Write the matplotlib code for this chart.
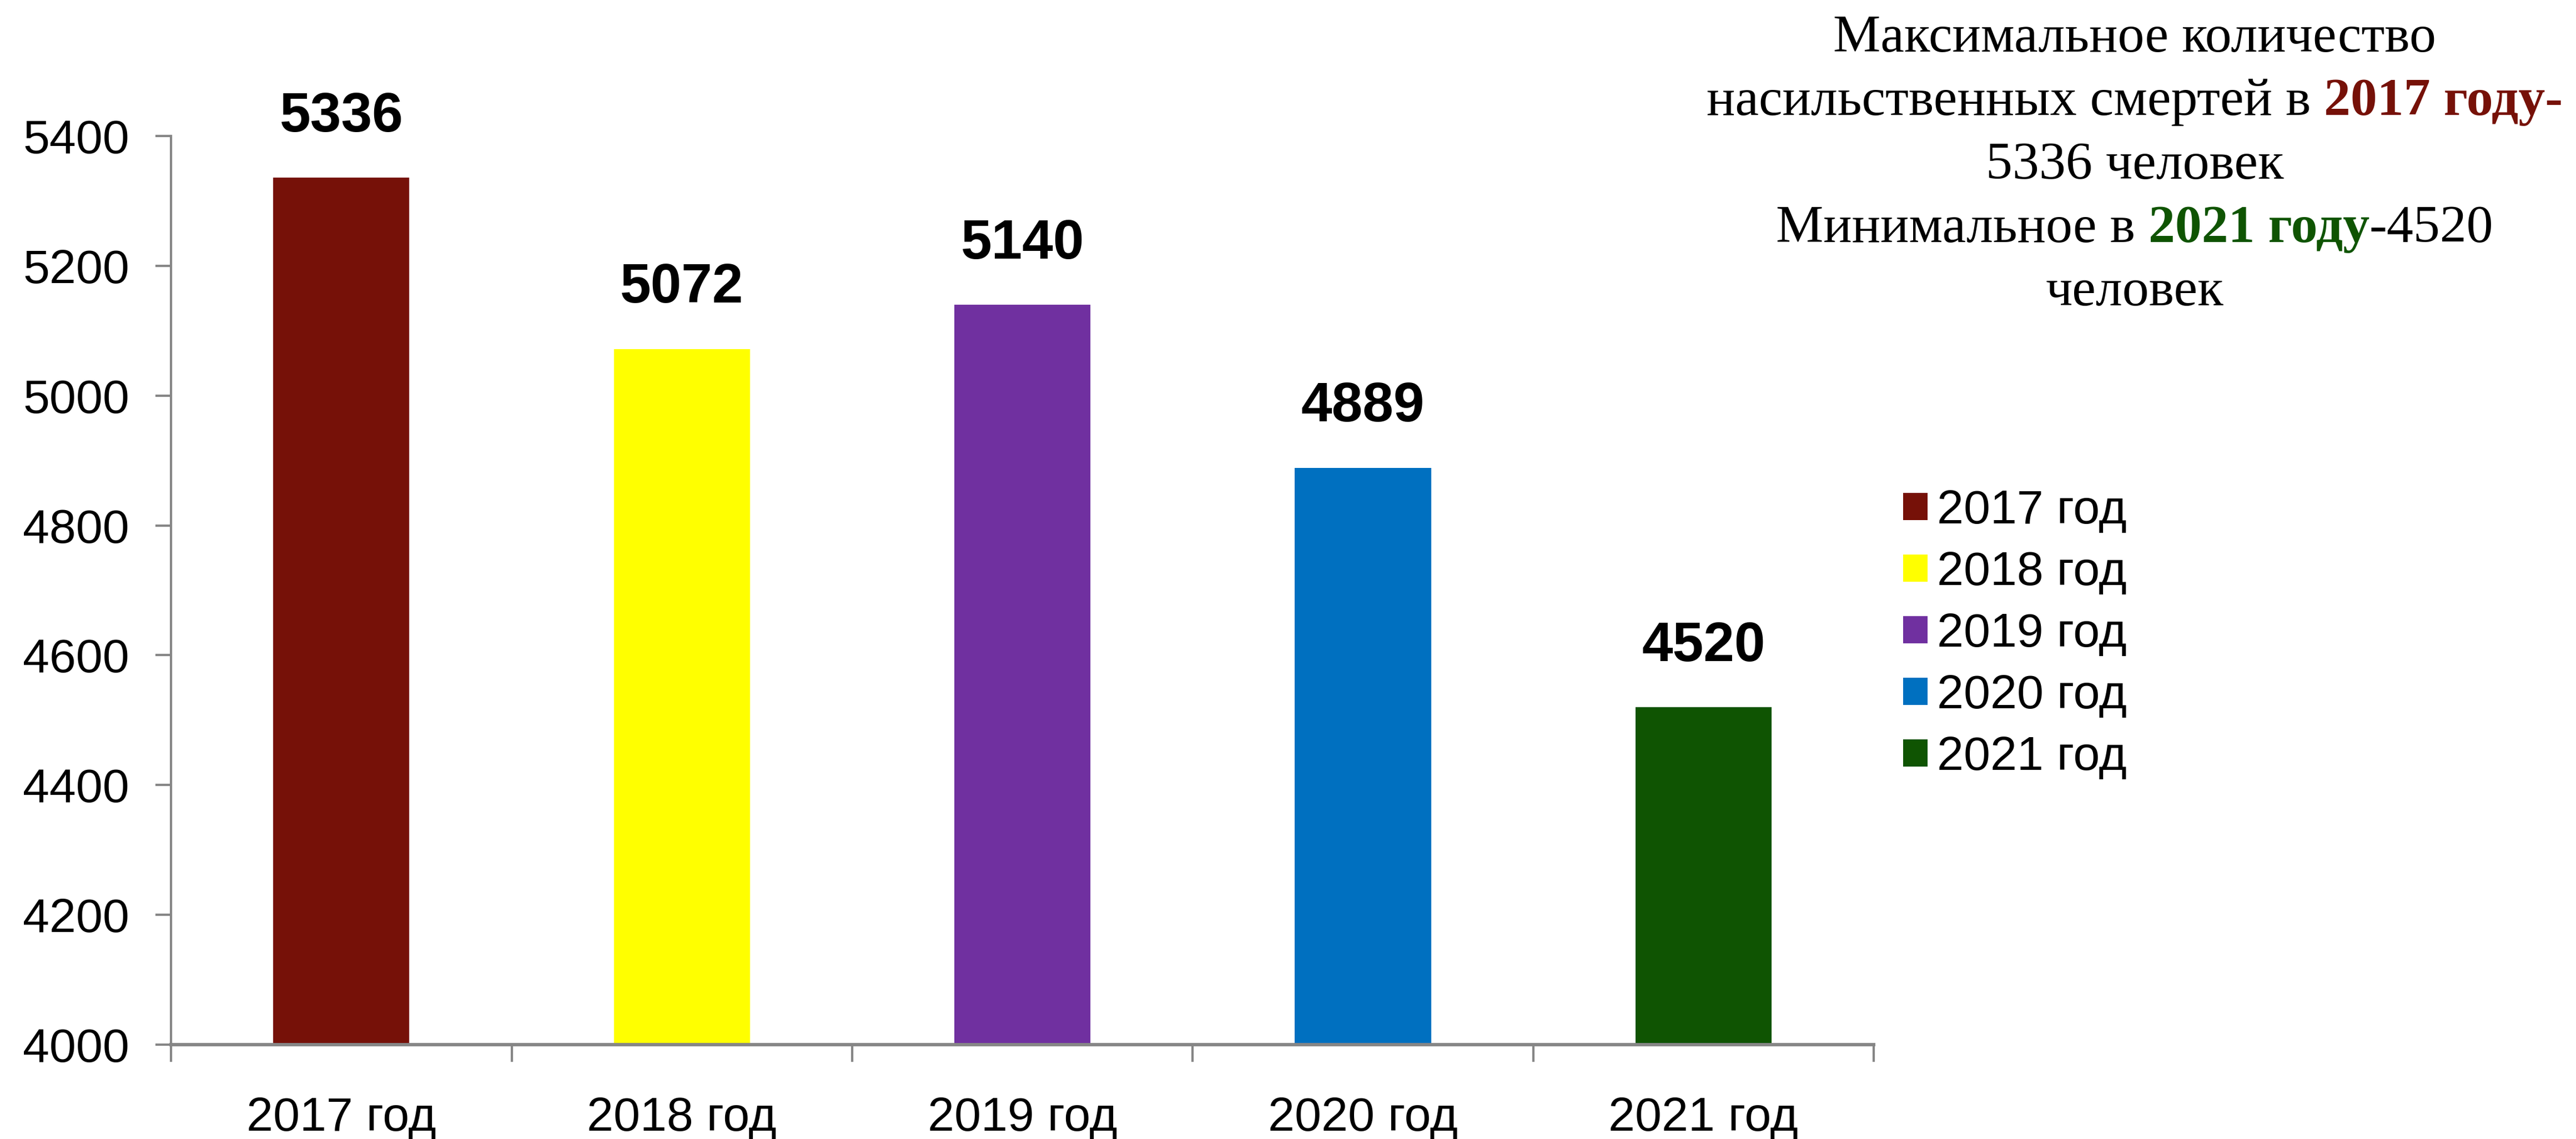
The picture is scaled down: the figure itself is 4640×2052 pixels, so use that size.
import matplotlib

matplotlib.use("Agg")
import matplotlib.pyplot as plt
import numpy as np
from matplotlib.offsetbox import AnnotationBbox, HPacker, TextArea, VPacker
from matplotlib.patches import Patch

years = ["2017 год", "2018 год", "2019 год", "2020 год", "2021 год"]
deaths = [5336, 5072, 5140, 4889, 4520]
bar_colors = ["#761108", "#FFFF00", "#7030A0", "#0070C0", "#0F5402"]
y_ticks = [4000, 4200, 4400, 4600, 4800, 5000, 5200, 5400]

axis_gray = "#868686"
sans = "Liberation Sans"
serif = "Liberation Serif"

fig = plt.figure(figsize=(46.4, 20.52), dpi=100)
ax = fig.add_axes([0.0664, 0.0828, 0.661, 0.7978])

x = np.arange(len(years))
ax.bar(x, deaths, width=0.4, color=bar_colors, zorder=2)
ax.set_xlim(-0.5, len(years) - 0.5)
ax.set_ylim(y_ticks[0], y_ticks[-1])

# value labels above bars
for xi, v in zip(x, deaths):
    ax.annotate(str(v), (xi, v), xytext=(0, 60), textcoords="offset points",
                ha="center", va="baseline", fontsize=72, fontweight="bold",
                family=sans, color="black")

# axes styling
for side in ["top", "right"]:
    ax.spines[side].set_visible(False)
ax.spines["left"].set_color(axis_gray)
ax.spines["left"].set_linewidth(3)
ax.spines["bottom"].set_color(axis_gray)
ax.spines["bottom"].set_linewidth(4.3)

ax.set_yticks(y_ticks)
ax.set_yticklabels([str(t) for t in y_ticks], family=sans, fontsize=62)
ax.tick_params(axis="y", length=20, width=3, color=axis_gray, pad=34)

ax.set_xticks(x)
ax.set_xticklabels(years, family=sans, fontsize=62)
ax.set_xticks(np.arange(len(years) + 1) - 0.5, minor=True)
ax.tick_params(axis="x", which="major", length=0, pad=67)
ax.tick_params(axis="x", which="minor", length=22, width=3, color=axis_gray)

# legend
handles = [Patch(facecolor=c, edgecolor="none", label=y) for c, y in zip(bar_colors, years)]
fig.legend(handles=handles, loc="center left", bbox_to_anchor=(0.7388, 0.4428),
           frameon=False, prop={"family": sans, "size": 62},
           handlelength=0.51, handleheight=0.5, handletextpad=0.2,
           labelspacing=0.36, borderpad=0, borderaxespad=0)


# annotation block with mixed styles
def piece(s, color="black", weight="normal"):
    return TextArea(s, textprops=dict(family=serif, size=69, color=color, weight=weight))


space = 17
lines = [
    piece("Максимальное количество"),
    HPacker(children=[piece("насильственных смертей в"),
                      piece("2017 году-", bar_colors[0], "bold")], sep=space, pad=0),
    piece("5336 человек"),
    HPacker(children=[piece("Минимальное в"),
                      HPacker(children=[piece("2021 году", bar_colors[4], "bold"),
                                        piece("-4520")], sep=0, pad=0)],
            sep=space, pad=0),
    piece("человек"),
]
block = VPacker(children=lines, align="center", sep=20, pad=0)
ab = AnnotationBbox(block, (0.8287, 0.987), xycoords="figure fraction",
                    box_alignment=(0.5, 1), frameon=False, pad=0)
fig.add_artist(ab)

fig.savefig("out.png", dpi=100)
plt.close(fig)
